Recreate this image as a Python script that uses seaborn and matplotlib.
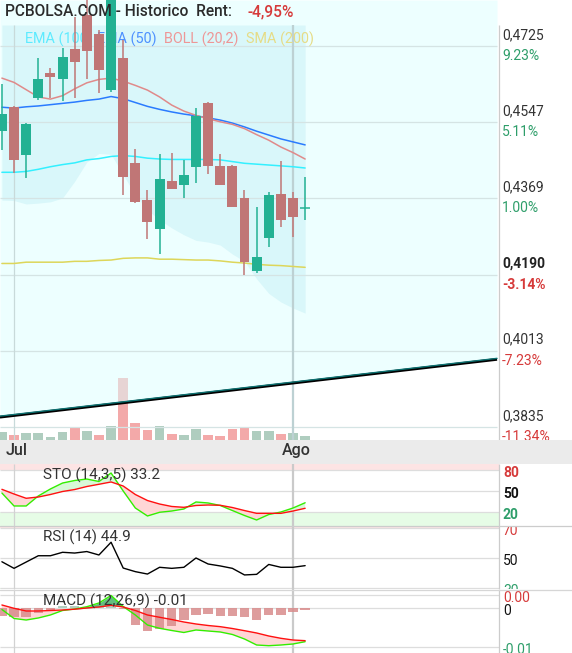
import numpy as np
import pandas as pd
import matplotlib
matplotlib.use("Agg")
import matplotlib.pyplot as plt
from matplotlib import transforms
from matplotlib.lines import Line2D
import seaborn as sns

# ---------------- data ----------------
dates = pd.bdate_range("2019-06-28", periods=26)

open_ = [0.4526, 0.4583, 0.4470, 0.4604, 0.4662, 0.4648, 0.4718, 0.4797, 0.4753, 0.4622,
         0.4697, 0.4452, 0.4365, 0.4298, 0.4410, 0.4400, 0.4442, 0.4592, 0.4445, 0.4445,
         0.4370, 0.4199, 0.4277, 0.4379, 0.4370, 0.4347]
high = [0.4636, 0.4585, 0.4545, 0.4697, 0.4674, 0.4720, 0.4793, 0.4837, 0.4762, 0.4851,
        0.4739, 0.4484, 0.4389, 0.4473, 0.4475, 0.4459, 0.4580, 0.4594, 0.4473, 0.4447,
        0.4389, 0.4349, 0.4384, 0.4456, 0.4384, 0.4419]
low = [0.4482, 0.4428, 0.4417, 0.4599, 0.4604, 0.4597, 0.4604, 0.4648, 0.4615, 0.4618,
       0.4377, 0.4358, 0.4274, 0.4239, 0.4391, 0.4370, 0.4405, 0.4426, 0.4400, 0.4349,
       0.4190, 0.4195, 0.4256, 0.4302, 0.4279, 0.4319]
close = [0.4566, 0.4459, 0.4543, 0.4648, 0.4653, 0.4700, 0.4688, 0.4713, 0.4669, 0.4844,
         0.4419, 0.4361, 0.4314, 0.4414, 0.4391, 0.4424, 0.4562, 0.4445, 0.4400, 0.4349,
         0.4220, 0.4232, 0.4377, 0.4319, 0.4326, 0.4347]
volume = [166000, 100000, 140000, 140000, 60000, 160000, 260000, 180000, 100000, 280000,
          1240000, 340000, 200000, 280000, 120000, 100000, 220000, 100000, 80000, 220000,
          260000, 180000, 180000, 120000, 140000, 80000]

ema100 = [0.4430, 0.4430, 0.4432, 0.4437, 0.4443, 0.4448, 0.4452, 0.4459, 0.4462, 0.4467,
          0.4469, 0.4467, 0.4463, 0.4461, 0.4460, 0.4460, 0.4460, 0.4460, 0.4459, 0.4455,
          0.4451, 0.4449, 0.4447, 0.4445, 0.4443, 0.4440]
ema50 = [0.4582, 0.4580, 0.4583, 0.4585, 0.4588, 0.4591, 0.4594, 0.4598, 0.4601, 0.4607,
         0.4602, 0.4593, 0.4584, 0.4577, 0.4571, 0.4566, 0.4562, 0.4557, 0.4552, 0.4545,
         0.4536, 0.4526, 0.4517, 0.4508, 0.4501, 0.4494]
boll_mid = [0.4650, 0.4640, 0.4623, 0.4606, 0.4601, 0.4609, 0.4625, 0.4639, 0.4647, 0.4650,
            0.4643, 0.4633, 0.4622, 0.4606, 0.4587, 0.4573, 0.4563, 0.4555, 0.4548, 0.4542,
            0.4532, 0.4518, 0.4505, 0.4489, 0.4476, 0.4461]
boll_lower = [0.4365, 0.4364, 0.4356, 0.4358, 0.4361, 0.4370, 0.4409, 0.4454, 0.4474, 0.4472,
              0.4424, 0.4377, 0.4342, 0.4319, 0.4300, 0.4284, 0.4271, 0.4267, 0.4260, 0.4239,
              0.4222, 0.4181, 0.4147, 0.4127, 0.4113, 0.4101]
sma200 = [0.4217, 0.4217, 0.4220, 0.4220, 0.4220, 0.4220, 0.4222, 0.4222, 0.4224, 0.4225,
          0.4229, 0.4230, 0.4230, 0.4227, 0.4227, 0.4226, 0.4225, 0.4225, 0.4223, 0.4220,
          0.4218, 0.4215, 0.4213, 0.4212, 0.4210, 0.4208]

trend_x = [-0.16, 40.82]
trend_y = [0.3858, 0.3993]

price_ticks = [0.4725, 0.4547, 0.4369, 0.4190, 0.4013, 0.3835]
price_labels = ["0,4725", "0,4547", "0,4369", "0,4190", "0,4013", "0,3835"]
pct_labels = ["9.23%", "5.11%", "1.00%", "-3.14%", "-7.23%", "-11.34%"]
price_bold = [False, False, False, True, False, False]

month_ticks = ["2019-07-01", "2019-08-01"]
month_labels = ["Jul", "Ago"]

sto_k = [47.1, 28.6, 28.6, 42.9, 52.9, 61.4, 65.0, 67.1, 63.6, 75.7, 50.0, 25.7, 14.3, 19.6,
         21.4, 24.3, 34.3, 32.9, 29.3, 22.1, 15.0, 8.6, 16.4, 20.0, 25.7, 33.2]
sto_d = [52.4, 45.7, 39.6, 41.4, 45.0, 49.3, 52.1, 56.4, 59.6, 62.9, 57.1, 45.0, 36.4, 31.4,
         27.9, 26.7, 29.3, 30.0, 29.6, 26.4, 22.1, 18.1, 18.1, 18.1, 21.4, 25.3]
rsi = [47.5, 43.1, 47.3, 51.5, 51.5, 53.8, 53.3, 54.3, 52.0, 60.5, 43.3, 40.9, 39.3, 43.8,
       43.1, 43.8, 50.0, 46.0, 44.7, 43.1, 38.7, 39.1, 45.7, 43.8, 43.8, 44.9]
macd = [-0.00038, -0.00269, -0.00308, -0.00256, -0.00179, -0.00064, -0.00026, 0.00033,
        0.00128, 0.00321, 0.00038, -0.00179, -0.00436, -0.00521, -0.00577, -0.00628,
        -0.00564, -0.00590, -0.00615, -0.00679, -0.00795, -0.00949, -0.00967, -0.00949,
        -0.00923, -0.00864]
macd_signal = [0.00077, -0.00008, -0.00077, -0.00077, -0.00064, -0.00051, -0.00031, 0.0,
               0.00026, 0.00069, 0.00026, -0.00064, -0.00179, -0.00238, -0.00295, -0.00359,
               -0.00410, -0.00449, -0.00479, -0.00526, -0.00582, -0.00641, -0.00718,
               -0.00777, -0.00821, -0.00838]
macd_hist = [-0.00197, -0.00241, -0.00231, -0.00128, -0.00062, 0.00051, 0.00051, 0.00005,
             0.00026, 0.00077, -0.00026, -0.00428, -0.00600, -0.00538, -0.00472, -0.00318,
             -0.00172, -0.00146, -0.00215, -0.00215, -0.00231, -0.00318, -0.00190, -0.00172,
             -0.00113, -0.00044]

sto_levels = [80, 50, 20]
sto_level_labels = ["80", "50", "20"]
rsi_levels = [70, 50, 30]
rsi_level_labels = ["70", "50", "30"]
macd_levels = [0.0033, 0.0, -0.01]
macd_level_labels = ["0.00", "0", "-0.01"]

title_text = "PCBOLSA.COM - Historico  Rent:"
rent_text = "-4,95%"
legend_names = ["EMA (100)", "EMA (50)", "BOLL (20,2)", "SMA (200)"]
sto_title = "STO (14,3,5) 33.2"
rsi_title = "RSI (14) 44.9"
macd_title = "MACD (12,26,9) -0.01"

# ---------------- styling / layout ----------------
sns.set_theme(style="white")
plt.rcParams["font.family"] = ["Roboto", "DejaVu Sans"]

W, H = 572, 653
fig = plt.figure(figsize=(W / 100, H / 100), dpi=100)
fig.patch.set_facecolor("white")

PX0, PX_STEP = 1.9, 12.13


def px2i(px):
    return (px - PX0) / PX_STEP


XL = (px2i(0), px2i(W))
X_END = px2i(497)
X_AXIS = px2i(499)
AX_FRAC = 499 / W


def add_ax(top, bottom, z=0):
    a = fig.add_axes([0, 1 - bottom / H, 1, (bottom - top) / H])
    a.set_zorder(z)
    a.set_xlim(XL)
    a.axis("off")
    return a


idx = np.arange(len(dates))
o, h, l, c = map(np.array, (open_, high, low, close))
month_pos = dates.get_indexer(pd.to_datetime(month_ticks))

UP, DOWN = "#23B193", "#C07676"
RED_T, GREEN_T, DARK_T = "#D63A3A", "#2E9E6A", "#222222"

# ---- main price panel ----
MAIN_TOP_PRICE = 0.48325
MAIN_BOT_PRICE = 0.38046
FRAME_TOP = 0.4774

vol_ax = add_ax(0, 440)
ax = add_ax(0, 440)
ax.set_ylim(MAIN_BOT_PRICE, MAIN_TOP_PRICE)
vol_ax.set_ylim(0, 440 * 20000)

prev = np.concatenate([[o[0]], c[:-1]])
vol_up = c >= prev
vol_ax.bar(idx, volume, width=0.8, color=np.where(vol_up, "#AFCDBF", "#F3A9A9"), lw=0)

ax.fill_between(trend_x, trend_y, MAIN_TOP_PRICE, color="#DDFFFF", alpha=0.5, lw=0, zorder=1)
ax.fill_between(idx, boll_lower, FRAME_TOP, color="#D9F7FA", lw=0, zorder=1.2)
ax.hlines(price_ticks, XL[0], X_END, color="#D5E4E4", lw=0.9, zorder=1.5)
ax.vlines(month_pos[0], MAIN_BOT_PRICE, FRAME_TOP, color="#C8DADA", lw=0.9, zorder=1.6)
ax.vlines(month_pos[1], MAIN_BOT_PRICE, FRAME_TOP, color="#BDD1D3", lw=1.6, zorder=1.6)
ax.vlines(X_AXIS, MAIN_BOT_PRICE, FRAME_TOP, color="#CCCCCC", lw=0.9, zorder=1.6)

for series, col in ((sma200, "#DDD65A"), (ema100, "#33F0FF"), (ema50, "#2A7BFF"),
                    (boll_mid, "#E08A8A")):
    sns.lineplot(x=idx, y=series, ax=ax, color=col, lw=1.1, zorder=3, legend=False)

# trend line (black with teal highlight)
ax.plot(trend_x, trend_y, color="black", lw=2.0, zorder=3.5, solid_capstyle="butt")
ax.plot(trend_x, trend_y, color="#0B7070", lw=1.0, zorder=3.6,
        transform=transforms.offset_copy(ax.transData, fig=fig, x=0, y=1.0, units="dots"))

# legend text (under candles)
for name, xpx, col in zip(legend_names, [25, 97, 164, 246],
                          ["#5EEBFF", "#4D90FF", "#EE9696", "#E6DC86"]):
    ax.text(xpx / W, 1 - 39 / 440, name, transform=ax.transAxes, color=col,
            fontsize=10.4, va="center", ha="left", zorder=3.8)

# candles
cc = np.where(c >= o, UP, DOWN)
ax.vlines(idx, l, h, colors=cc, lw=1.1, zorder=4)
ax.bar(idx, np.abs(c - o), bottom=np.minimum(o, c), width=0.82, color=cc, lw=0, zorder=5)
doji = np.abs(c - o) < 1e-6
ax.hlines(c[doji], idx[doji] - 0.41, idx[doji] + 0.41, colors=cc[doji], lw=1.1, zorder=5)

# right price labels
xlab = px2i(502)
up_tr = transforms.offset_copy(ax.transData, fig=fig, x=0, y=11, units="dots")
dn_tr = transforms.offset_copy(ax.transData, fig=fig, x=0, y=-10, units="dots")
for p, pl, pc, bold in zip(price_ticks, price_labels, pct_labels, price_bold):
    w = "bold" if bold else "normal"
    ax.text(xlab, p, pl, transform=up_tr, color=DARK_T if bold else "#333333",
            fontsize=10, fontweight=w, va="center", ha="left", clip_on=False)
    ax.text(xlab, p, pc, transform=dn_tr, color=RED_T if pc.startswith("-") else GREEN_T,
            fontsize=10, fontweight=w, va="center", ha="left", clip_on=False)

fig.text(5 / W, 1 - 12 / H, title_text, color="#2B2B2B", fontsize=11.2, fontweight="medium",
         va="center", ha="left")
fig.text(247 / W, 1 - 12 / H, rent_text, color=RED_T, fontsize=11.2, fontweight="medium",
         va="center", ha="left")

# ---- date band ----
band = add_ax(440, 464, z=5)
band.axis("on")
for s in band.spines.values():
    s.set_visible(False)
band.set_xticks([])
band.set_yticks([])
band.set_facecolor("#EBEBEB")
band.set_ylim(0, 1)
for mp, ml in zip(month_pos, month_labels):
    band.text(mp, 0.56, ml, ha="center", va="center", fontsize=11.5, fontweight="medium",
              color="#333333",
              transform=transforms.offset_copy(band.transData, fig=fig, x=3, y=0, units="dots"))


def panel_common(a, lo, hi, top_band, bot_band, levels, labels, colors, weight, title, title_y,
                 top_px, bot_px):
    a.set_ylim(lo, hi)
    a.axhspan(top_band, hi, xmin=0, xmax=AX_FRAC, color="#FDE4E4", lw=0, zorder=0.5)
    a.axhspan(lo, bot_band, xmin=0, xmax=AX_FRAC, color="#E6FCE6", lw=0, zorder=0.5)
    a.hlines(levels, XL[0], X_AXIS, color="#DDDDDD", lw=0.9, zorder=0.8)
    a.vlines(month_pos[0], lo, hi, color="#D2D2D2", lw=0.9, zorder=0.9)
    a.vlines(month_pos[1], lo, hi, color="#CACACA", lw=1.6, zorder=0.9)
    a.vlines(X_AXIS, lo, hi, color="#CCCCCC", lw=0.9, zorder=0.9)
    tr = transforms.offset_copy(a.transData, fig=fig, x=0, y=-3, units="dots")
    for lv, lb, col in zip(levels, labels, colors):
        a.text(px2i(503), lv, lb, transform=tr, color=col, fontsize=10, fontweight=weight,
               va="center", ha="left", clip_on=True)
    a.text(43 / W, 1 - (title_y - top_px) / (bot_px - top_px), title, transform=a.transAxes,
           color="#333333", fontsize=11, va="center", ha="left", zorder=6)


# ---- STO ----
sto_ax = add_ax(464, 526, z=1)
panel_common(sto_ax, 0, 88.57, 80, 20, sto_levels, sto_level_labels, [RED_T, "#111111", GREEN_T],
             "bold", sto_title, 475, 464, 526)
k, d = np.array(sto_k), np.array(sto_d)
sto_ax.fill_between(idx, k, d, where=k < d, interpolate=True, color="#FFD6D6", lw=0, zorder=1)
sto_ax.fill_between(idx, k, d, where=k >= d, interpolate=True, color="#D8F8D8", lw=0, zorder=1)
sns.lineplot(x=idx, y=k, ax=sto_ax, color="#33EE00", lw=1.0, zorder=2, legend=False)
sns.lineplot(x=idx, y=d, ax=sto_ax, color="#FF1010", lw=1.0, zorder=2.1, legend=False)

# ---- RSI ----
rsi_ax = add_ax(526, 589, z=1)
panel_common(rsi_ax, 29.33, 71.33, 70, 30, rsi_levels, rsi_level_labels, [RED_T, "#111111", GREEN_T],
             "normal", rsi_title, 537, 526, 589)
sns.lineplot(x=idx, y=rsi, ax=rsi_ax, color="black", lw=1.0, zorder=2, legend=False)

# ---- MACD ----
macd_ax = add_ax(589, 653, z=1)
mlo, mhi = -0.01154, 0.00487
panel_common(macd_ax, mlo, mhi, mhi, mlo, macd_levels, macd_level_labels, [RED_T, "#111111", GREEN_T],
             "normal", macd_title, 601, 589, 653)
m, s = np.array(macd), np.array(macd_signal)
macd_ax.fill_between(idx, m, s, where=m < s, interpolate=True, color="#FFD6D6", lw=0, zorder=1)
macd_ax.fill_between(idx, m, s, where=m >= s, interpolate=True, color="#62BD80", lw=0, zorder=1)
hist = np.array(macd_hist)
macd_ax.bar(idx, hist, width=0.77, color=np.where(hist < 0, "#D98C8C", "#A6C7B6"), alpha=0.85,
            lw=0, zorder=1.5)
sns.lineplot(x=idx, y=m, ax=macd_ax, color="#33EE00", lw=1.0, zorder=2, legend=False)
sns.lineplot(x=idx, y=s, ax=macd_ax, color="#FF1010", lw=1.0, zorder=2.1, legend=False)

# separators between panels
fig.lines.append(Line2D([0, 1], [1 - 526 / H] * 2, transform=fig.transFigure, color="#CCCCCC", lw=0.9))
fig.lines.append(Line2D([0, 1], [1 - 589.5 / H] * 2, transform=fig.transFigure, color="#D6D6D6", lw=0.9))

fig.savefig("out.png", dpi=100, facecolor="white")
